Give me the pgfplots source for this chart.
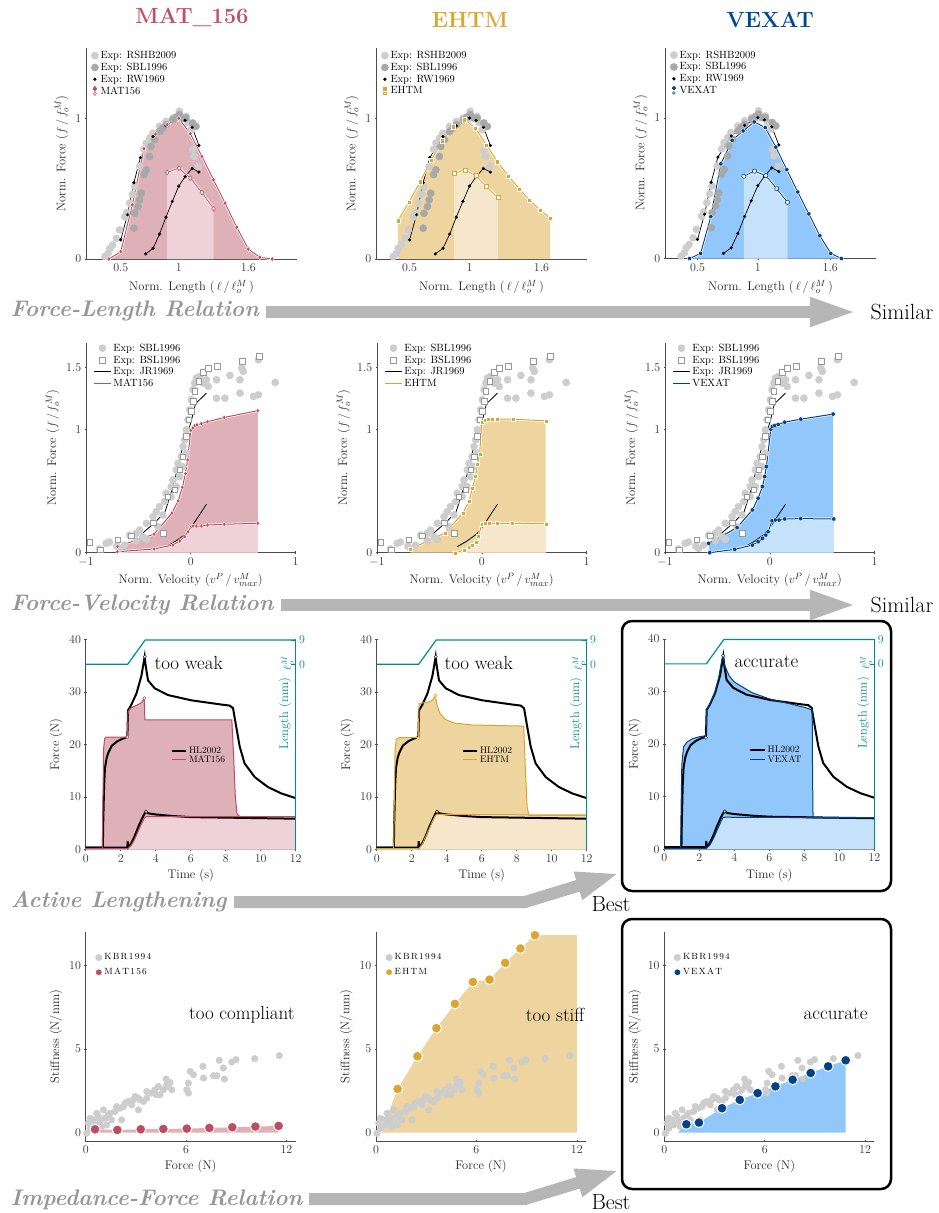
\documentclass[border=0pt]{standalone}
\usepackage{pgfplots}
\pgfplotsset{compat=1.18}
\usepackage{pgfplotstable}
\usetikzlibrary{arrows.meta}

\definecolor{matc}{RGB}{190,78,95}
\definecolor{matf}{RGB}{222,176,184}
\definecolor{matl}{RGB}{238,210,215}
\definecolor{ehc}{RGB}{220,165,45}
\definecolor{ehf}{RGB}{238,213,160}
\definecolor{ehl}{RGB}{246,231,204}
\definecolor{vxc}{RGB}{0,65,135}
\definecolor{vxf}{RGB}{145,199,250}
\definecolor{vxl}{RGB}{198,225,250}
\definecolor{gl}{RGB}{205,205,205}
\definecolor{gd}{RGB}{168,168,168}
\definecolor{tl}{RGB}{0,140,140}
\definecolor{arr}{RGB}{182,182,182}
\definecolor{lab}{RGB}{150,150,150}
\definecolor{tmat}{RGB}{192,80,100}
\definecolor{tvx}{RGB}{0,72,145}

\newcommand{\KBR}{K\kern1.3pt B\kern1.3pt R\kern1.3pt 1\kern1.3pt 9\kern1.3pt 9\kern1.3pt 4}

% ---------------- Force-length data
\pgfplotstableread{
x y
0.363 0.017
0.39 0.04
0.406 0.076
0.43 0.10
0.463 0.147
0.49 0.207
0.534 0.30
0.55 0.33
0.577 0.397
0.60 0.46
0.62 0.515
0.663 0.658
0.70 0.78
0.72 0.824
0.75 0.86
0.777 0.895
0.834 0.943
0.89 0.979
0.949 1.002
1.0 1.0
1.006 1.05
1.063 1.014
1.08 0.97
1.106 0.919
1.12 0.777
1.134 0.729
1.17 0.658
}\flRS
\pgfplotstableread{
x y
0.614 0.219
0.62 0.325
0.649 0.373
0.663 0.42
0.677 0.468
0.70 0.60
0.72 0.634
0.749 0.729
0.76 0.80
0.791 0.848
0.834 0.907
0.86 0.93
0.891 0.955
0.949 0.990
0.98 1.01
1.006 1.026
1.04 1.0
1.063 1.002
1.12 0.967
1.149 0.943
}\flSB
\pgfplotstableread{
x y
0.5 0.136
0.558 0.315
0.613 0.542
0.669 0.721
0.779 0.871
0.890 0.947
1.0 1.002
1.055 0.986
1.116 0.936
1.174 0.807
}\flRWa
\pgfplotstableread{
x y
0.715 0.036
0.779 0.076
0.834 0.177
0.890 0.298
0.945 0.410
1.0 0.518
1.055 0.585
1.116 0.644
1.174 0.618
}\flRWb
\pgfplotstableread{
x y
0.397 0
0.5 0.052
0.6 0.385
0.7 0.784
0.8 0.888
0.9 0.955
1.0 1.0
1.1 0.891
1.2 0.729
1.3 0.563
1.4 0.397
1.5 0.226
1.6 0.071
1.7 0.012
1.806 0
}\matU
\pgfplotstableread{
x y
0.9 0.615
1.0 0.646
1.1 0.575
1.2 0.473
1.3 0.356
}\matL
\pgfplotstableread{
x y
0.403 0.273
0.494 0.403
0.589 0.55
0.681 0.704
0.775 0.841
0.867 0.941
0.958 0.991
1.05 0.931
1.142 0.810
1.233 0.692
1.325 0.588
1.417 0.498
1.5 0.417
1.589 0.348
1.672 0.289
}\ehU
\pgfplotstableread{
x y
0.872 0.609
0.961 0.633
1.053 0.592
1.144 0.514
1.236 0.436
}\ehL
\pgfplotstableread{
x y
0.434 0
0.525 0.036
0.610 0.298
0.693 0.673
0.787 0.840
0.878 0.907
0.970 0.971
1.061 0.931
1.149 0.792
1.240 0.632
1.331 0.473
1.423 0.317
1.514 0.162
1.605 0.036
1.693 0
}\vxU
\pgfplotstableread{
x y
0.884 0.585
0.972 0.621
1.066 0.589
1.157 0.496
1.246 0.399
}\vxL

% ---------------- Force-velocity data
\pgfplotstableread{
x y
-0.872 0.03
-0.808 0.076
-0.776 0.086
-0.706 0.054
-0.68 0.035
-0.632 0.062
-0.584 0.141
-0.52 0.157
-0.52 0.097
-0.488 0.184
-0.456 0.13
-0.424 0.238
-0.424 0.108
-0.36 0.292
-0.33 0.332
-0.314 0.211
-0.298 0.373
-0.266 0.305
-0.25 0.414
-0.234 0.481
-0.186 0.535
-0.186 0.454
-0.17 0.589
-0.138 0.670
-0.138 0.535
-0.122 0.724
-0.106 0.616
-0.09 0.778
-0.074 0.859
-0.074 0.697
-0.058 0.914
-0.042 0.995
-0.042 0.805
-0.026 1.076
-0.01 1.157
0.006 1.238
0.022 1.319
0.038 1.373
0.054 1.414
0.086 1.427
0.118 1.373
0.15 1.40
0.166 1.346
0.246 1.40
0.246 1.251
0.326 1.251
0.374 1.435
0.47 1.292
0.47 1.40
0.486 1.495
0.502 1.468
0.598 1.265
0.646 1.562
0.646 1.278
0.806 1.378
}\fvS
\pgfplotstableread{
x y
-0.962 0.084
-0.862 0.024
-0.696 0.105
-0.568 0.138
-0.36 0.243
-0.264 0.157
-0.218 0.454
-0.154 0.508
-0.106 0.670
-0.074 0.778
-0.042 0.941
-0.019 1.076
0.006 1.143
0.022 1.224
0.038 1.305
0.077 1.386
0.118 1.459
0.166 1.495
0.256 1.508
0.493 1.549
0.653 1.589
}\fvB
\pgfplotstableread{
x y
-0.472 0.149
-0.35 0.24
-0.248 0.324
-0.2 0.45
-0.15 0.6
-0.1 0.78
-0.05 0.93
0.0 1.05
0.045 1.205
0.15 1.292
}\fvJa
\pgfplotstableread{
x y
-0.234 0.049
-0.15 0.09
-0.106 0.116
-0.05 0.15
0.0 0.2
0.07 0.29
0.15 0.392
}\fvJb
\pgfplotstableread{
x y
-0.70 0.05
-0.35 0.15
-0.18 0.32
-0.12 0.42
-0.08 0.53
-0.05 0.64
-0.03 0.75
0.0 0.99
0.02 1.01
0.04 1.03
0.06 1.035
0.10 1.045
0.16 1.06
0.32 1.095
0.64 1.15
}\matFU
\pgfplotstableread{
x y
-0.70 0.008
-0.35 0.03
-0.17 0.062
-0.106 0.095
-0.058 0.13
-0.026 0.17
0.006 0.211
0.022 0.216
0.054 0.216
0.102 0.216
0.16 0.224
0.32 0.23
0.64 0.238
}\matFL
\pgfplotstableread{
x y
-0.68 0.03
-0.35 0.16
-0.18 0.32
-0.12 0.42
-0.09 0.52
-0.06 0.62
-0.04 0.72
-0.02 0.80
0.0 1.06
0.03 1.075
0.06 1.08
0.10 1.08
0.15 1.083
0.30 1.08
0.61 1.068
}\ehFU
\pgfplotstableread{
x y
-0.25 0
-0.17 0.022
-0.122 0.043
-0.09 0.062
-0.058 0.089
-0.032 0.13
0.0 0.23
0.029 0.238
0.07 0.238
0.15 0.238
0.294 0.238
0.614 0.235
}\ehFL
\pgfplotstableread{
x y
-0.583 0.076
-0.312 0.203
-0.166 0.346
-0.111 0.441
-0.07 0.535
-0.048 0.616
-0.032 0.697
0.01 1.0
0.025 1.022
0.048 1.03
0.08 1.038
0.143 1.057
0.296 1.081
0.605 1.122
}\vxFU
\pgfplotstableread{
x y
-0.573 0
-0.334 0.027
-0.166 0.062
-0.111 0.089
-0.07 0.116
-0.038 0.143
-0.016 0.170
0.022 0.259
0.054 0.265
0.089 0.265
0.143 0.273
0.296 0.276
0.611 0.273
}\vxFL

% ---------------- Active lengthening data
\pgfplotstableread{
x y
0 0.4
0.98 0.4
1.0 5
1.05 12
1.1 15.5
1.2 17.5
1.3 18.5
1.5 19.8
1.8 20.6
2.1 21.1
2.38 21.4
2.42 26.5
2.6 27.5
2.9 29.7
3.18 33.0
3.37 36.7
3.41 35.4
3.56 32.2
3.94 30.7
4.7 29.4
6.04 28.4
7.75 27.6
8.23 27.4
8.42 26.9
8.6 23.4
8.8 19.6
9.08 16.4
9.66 13.8
10.42 11.9
11.18 10.7
12 9.8
}\hlU
\pgfplotstableread{
x y
0 0.4
2.38 0.4
2.40 1.6
2.42 0.5
2.6 1.2
2.8 2.6
3.0 4.3
3.2 5.8
3.35 6.8
3.45 7.2
3.6 6.9
4.0 6.7
5.0 6.4
6.0 6.2
8.0 6.1
10 6.0
12 5.9
}\hlL
\pgfplotstableread{
x y
0 0.2
0.95 0.2
0.98 8
1.02 19
1.08 21.1
1.2 21.4
2.38 21.4
2.42 26.2
2.6 27.0
3.0 27.6
3.2 28.0
3.35 28.8
3.38 24.7
8.35 24.7
8.45 18
8.55 10
8.65 6.8
8.8 6.3
12 6.3
}\matAU
\pgfplotstableread{
x y
0 0.2
2.4 0.2
2.6 0.8
2.8 2.0
3.0 3.5
3.2 5.0
3.35 6.0
3.45 6.3
12 6.3
}\matAL
\pgfplotstableread{
x y
0 0.2
0.97 0.2
1.0 8
1.05 19
1.12 21.0
1.3 21.3
2.38 21.3
2.42 27.8
3.0 28.1
3.2 28.5
3.35 29.3
3.45 27.5
3.6 26.0
3.9 24.8
4.4 24.1
5.5 23.7
8.4 23.5
8.5 15
8.6 8
8.7 6.5
12 6.5
}\ehAU
\pgfplotstableread{
x y
0 0.2
2.4 0.2
2.6 1
2.8 2.5
3.0 4.0
3.2 5.5
3.35 6.5
3.45 6.7
12 6.6
}\ehAL
\pgfplotstableread{
x y
0 0.2
0.93 0.2
0.96 8
1.0 16
1.1 19.5
1.3 20.4
1.6 21.0
2.0 21.4
2.38 21.6
2.42 26.5
2.6 27.6
2.9 30
3.1 32.5
3.3 36.2
3.36 36.8
3.45 35.0
3.7 33.0
4.0 31.8
5.0 29.8
6.0 28.6
7.0 27.8
8.0 27.0
8.45 26.5
8.47 15
8.5 6.0
12 6.0
}\vxAU
\pgfplotstableread{
x y
0 0.2
2.4 0.2
2.6 0.8
2.8 2.0
3.0 3.5
3.2 5.0
3.35 6.0
3.45 6.1
12 6.0
}\vxAL

% ---------------- Impedance-force data
\pgfplotstableread{
x y
0.06 -0.04
0.16 0.56
0.26 0.26
0.26 0.86
0.46 0.76
0.56 0.46
0.66 1.16
0.76 0.96
0.86 0.66
0.96 0.36
1.06 1.36
1.16 0.86
1.26 0.46
1.35 1.06
1.45 1.16
1.55 0.76
1.75 1.26
1.85 1.56
2.05 1.46
2.15 0.76
2.25 1.56
2.35 1.76
2.45 1.8
2.55 1.86
2.75 1.66
2.85 1.96
2.95 2.16
3.15 1.36
3.15 2.06
3.25 1.96
3.45 1.86
3.65 2.06
3.65 2.46
3.94 2.36
4.14 2.56
4.24 2.26
4.34 2.76
4.44 2.26
4.64 2.56
4.8 3.2
4.84 2.86
4.94 2.76
5.04 3.0
5.14 2.56
6.04 2.56
6.14 2.96
6.14 2.36
6.24 3.66
6.44 3.46
7.0 3.96
7.04 3.26
7.64 3.4
7.84 3.4
7.98 4.32
8.23 3.86
8.29 3.2
8.73 4.22
8.98 4.36
10.1 4.42
11.57 4.6
}\kbr
\pgfplotstableread{
x y
0.56 0.2
1.89 0.16
3.29 0.2
4.64 0.22
6.04 0.24
7.39 0.28
8.76 0.32
10.14 0.36
11.53 0.4
}\matI
\pgfplotstableread{
x y
1.29 2.61
2.48 4.56
3.61 6.24
4.72 7.69
5.79 9.0
6.79 9.14
7.72 10.14
8.63 11.0
9.5 11.79
}\ehI
\pgfplotstableread{
x y
1.32 0.5
2.07 0.6
3.45 1.46
4.51 1.96
5.58 2.36
6.64 2.76
7.67 3.16
8.75 3.56
9.79 3.96
10.84 4.32
}\vxI

\pgfplotsset{
  base/.style={scale only axis, anchor=south west, axis lines=left,
    axis line style={-, line width=0.7pt, black!70},
    tick style={black!70, line width=0.5pt}, major tick length=2.5pt,
    tick label style={font=\fontsize{12}{14}\selectfont, text=black!80},
    label style={font=\fontsize{12.5}{15}\selectfont, text=black!85},
    clip=false,
    legend style={draw=none, fill=none, font=\fontsize{10.5}{12}\selectfont, row sep=-1pt},
    legend cell align=left},
  fl/.style={base, width=211pt, height=211pt, ymin=0, ymax=1.5,
    xtick={0.5,1,1.6}, ytick={0,1},
    xlabel={Norm. Length (\,$\ell\mkern3mu/\mkern3mu\ell^{M}_{o}$\,)}, ylabel={Norm. Force ($f\,/\,f^M_o$)},
    xlabel style={yshift=-2pt},
    legend style={at={(0.01,1.005)}, anchor=north west}},
  fv/.style={base, width=209.5pt, height=210pt, xmin=-1, xmax=1, ymin=0, ymax=1.7,
    xtick={-1,0,1}, ytick={0,1,1.5},
    xlabel={Norm. Velocity ($v^P\,/\,v^M_{max}$)}, ylabel={Norm. Force ($f\,/\,f^M_o$)},
    legend style={at={(0.02,1.015)}, anchor=north west}},
  al/.style={base, width=210pt, height=210.4pt, xmin=0, xmax=12, ymin=0, ymax=40,
    xtick={0,2,...,12}, ytick={0,10,...,40},
    xlabel={Time (s)}, ylabel={Force (N)},
    legend style={at={(0.39,0.51)}, anchor=north west, font=\fontsize{9.5}{10}\selectfont, row sep=-3pt},
    legend image code/.code={\draw[#1] (0cm,0cm) -- (0.5cm,0cm);}},
  alr/.style={scale only axis, anchor=south west, width=210pt, height=210.4pt, xmin=0, xmax=12,
    ymin=-68.7, ymax=9.25, axis x line=none, axis y line*=right,
    axis line style={-, tl, line width=0.8pt}, ytick={0,9}, tick style={tl},
    yticklabel style={font=\fontsize{12}{14}\selectfont, text=tl}, clip=false},
  imp/.style={base, width=210pt, height=209.3pt, xmin=0, xmax=12.55, ymin=-0.5, ymax=12,
    xtick={0,6,12}, ytick={0,5,10},
    xlabel={Force (N)}, ylabel={Stiffness (N/mm)},
    legend style={at={(0.03,0.915)}, anchor=north west, font=\fontsize{9}{10}\selectfont, row sep=3pt}},
  halo/.style={white, line width=2.4pt, forget plot},
  gdot/.style={only marks, mark=*, mark size=3.6pt},
  rwline/.style={black, line width=0.7pt, mark=*, mark size=1.2pt},
  lgdot/.style={legend image code/.code={\fill[black] (0.3cm,0) circle (1.3pt);}},
  pk/.style={only marks, mark=*, mark size=1.6pt, mark options={fill=white, draw=#1, line width=0.5pt}, forget plot},
  bigdot/.style={only marks, mark=*, mark size=5pt, mark options={fill=#1, draw=white, line width=1pt},
    legend image post style={mark size=3.6pt}},
}

\begin{document}
\begin{tikzpicture}[x=1pt,y=1pt]
\useasboundingbox (0,0) rectangle (939,-1213);

% ================= Titles
\node[anchor=base, font=\fontsize{22}{24}\selectfont\bfseries, text=tmat] at (192,-23) {MAT\_156};
\node[anchor=base, font=\fontsize{22}{24}\selectfont\bfseries, text=ehc] at (470,-27) {EHTM};
\node[anchor=base, font=\fontsize{22}{24}\selectfont\bfseries, text=tvx] at (770,-27) {VEXAT};

% ================= Row 1: Force-length
\begin{axis}[fl, at={(86pt,-259pt)}, xmin=0.2, xmax=2.02]
\addplot[fill=matf, draw=none, forget plot] table {\matU} \closedcycle;
\addplot[fill=matl, draw=none, forget plot] table {\matL} \closedcycle;
\addplot[gdot, gl] table {\flRS}; \addlegendentry{Exp: RSHB2009}
\addplot[gdot, gd] table {\flSB}; \addlegendentry{Exp: SBL1996}
\addplot[rwline, lgdot] table {\flRWa}; \addlegendentry{Exp: RW1969}
\addplot[rwline, forget plot] table {\flRWb};
\addplot[halo] table {\matU};
\addplot[halo] table {\matL};
\addplot[matc, line width=0.9pt, mark=diamond*, mark size=2.6pt, mark options={fill=matc, draw=white, line width=0.4pt},
  legend image code/.code={
   \filldraw[matc] (0.3cm,4.6pt) -- ({0.3cm+1.7pt},2.4pt) -- (0.3cm,0.2pt) -- ({0.3cm-1.7pt},2.4pt) -- cycle;
   \draw[matc, fill=white, line width=0.5pt] (0.3cm,-0.6pt) -- ({0.3cm+1.5pt},-2.5pt) -- (0.3cm,-4.4pt) -- ({0.3cm-1.5pt},-2.5pt) -- cycle;}]
  table {\matU}; \addlegendentry{MAT156}
\addplot[matc, line width=0.8pt, mark=diamond*, mark size=2.4pt, mark options={fill=white, draw=matc, line width=0.6pt}, forget plot] table {\matL};
\end{axis}

\begin{axis}[fl, at={(376pt,-259pt)}, xmin=0.22, xmax=1.98]
\addplot[fill=ehf, draw=none, forget plot] table {\ehU} \closedcycle;
\addplot[fill=ehl, draw=none, forget plot] table {\ehL} \closedcycle;
\addplot[gdot, gl] table {\flRS}; \addlegendentry{Exp: RSHB2009}
\addplot[gdot, gd] table {\flSB}; \addlegendentry{Exp: SBL1996}
\addplot[rwline, lgdot] table {\flRWa}; \addlegendentry{Exp: RW1969}
\addplot[rwline, forget plot] table {\flRWb};
\addplot[halo] table {\ehU};
\addplot[halo] table {\ehL};
\addplot[ehc, line width=0.9pt, mark=square*, mark size=2.1pt, mark options={fill=ehc, draw=white, line width=0.4pt},
  legend image code/.code={
   \fill[ehc] ({0.3cm-1.5pt},1pt) rectangle ({0.3cm+1.5pt},4pt);
   \draw[ehc, fill=white, line width=0.5pt] ({0.3cm-1.3pt},-1pt) rectangle ({0.3cm+1.3pt},-3.6pt);}]
  table {\ehU}; \addlegendentry{EHTM}
\addplot[ehc, line width=0.8pt, mark=square*, mark size=2pt, mark options={fill=white, draw=ehc, line width=0.6pt}, forget plot] table {\ehL};
\end{axis}

\begin{axis}[fl, at={(665pt,-258.5pt)}, xmin=0.23, xmax=1.98]
\addplot[fill=vxf, draw=none, forget plot] table {\vxU} \closedcycle;
\addplot[fill=vxl, draw=none, forget plot] table {\vxL} \closedcycle;
\addplot[gdot, gl] table {\flRS}; \addlegendentry{Exp: RSHB2009}
\addplot[gdot, gd] table {\flSB}; \addlegendentry{Exp: SBL1996}
\addplot[rwline, lgdot] table {\flRWa}; \addlegendentry{Exp: RW1969}
\addplot[rwline, forget plot] table {\flRWb};
\addplot[halo] table {\vxU};
\addplot[halo] table {\vxL};
\addplot[vxc, line width=0.9pt, mark=*, mark size=2.2pt, mark options={fill=vxc, draw=white, line width=0.4pt},
  legend image code/.code={
   \fill[vxc] (0.3cm,2.5pt) circle (1.6pt);
   \draw[vxc, fill=white, line width=0.5pt] (0.3cm,-2.3pt) circle (1.4pt);}]
  table {\vxU}; \addlegendentry{VEXAT}
\addplot[vxc, line width=0.8pt, mark=*, mark size=2.1pt, mark options={fill=white, draw=vxc, line width=0.6pt}, forget plot] table {\vxL};
\end{axis}

% ================= Row 2: Force-velocity
\begin{axis}[fv, at={(86pt,-552.7pt)}]
\addplot[fill=matf, draw=none, forget plot] table {\matFU} \closedcycle;
\addplot[fill=matl, draw=none, forget plot] table {\matFL} \closedcycle;
\addplot[gdot, gl] table {\fvS}; \addlegendentry{Exp: SBL1996}
\addplot[only marks, mark=square*, mark size=2.8pt, mark options={fill=white, draw=gray!80, line width=0.6pt}] table {\fvB}; \addlegendentry{Exp: BSL1996}
\addplot[black, line width=0.8pt] table {\fvJa}; \addlegendentry{Exp: JR1969}
\addplot[black, line width=0.8pt, forget plot] table {\fvJb};
\addplot[halo] table {\matFU};
\addplot[halo] table {\matFL};
\addplot[matc, line width=1pt, mark=diamond*, mark size=2.4pt, mark options={fill=matc, draw=white, line width=0.3pt}, legend image post style={mark=none}] table {\matFU}; \addlegendentry{MAT156}
\addplot[matc, line width=1pt, mark=diamond*, mark size=2.4pt, mark options={fill=matc, draw=white, line width=0.3pt}, forget plot] table {\matFL};
\end{axis}

\begin{axis}[fv, at={(377pt,-552.7pt)}]
\addplot[fill=ehf, draw=none, forget plot] table {\ehFU} \closedcycle;
\addplot[fill=ehl, draw=none, forget plot] table {\ehFL} \closedcycle;
\addplot[gdot, gl] table {\fvS}; \addlegendentry{Exp: SBL1996}
\addplot[only marks, mark=square*, mark size=2.8pt, mark options={fill=white, draw=gray!80, line width=0.6pt}] table {\fvB}; \addlegendentry{Exp: BSL1996}
\addplot[black, line width=0.8pt] table {\fvJa}; \addlegendentry{Exp: JR1969}
\addplot[black, line width=0.8pt, forget plot] table {\fvJb};
\addplot[halo] table {\ehFU};
\addplot[halo] table {\ehFL};
\addplot[ehc, line width=1pt, mark=square*, mark size=2pt, mark options={fill=ehc, draw=white, line width=0.3pt}, legend image post style={mark=none}] table {\ehFU}; \addlegendentry{EHTM}
\addplot[ehc, line width=1pt, mark=square*, mark size=2pt, mark options={fill=ehc, draw=white, line width=0.3pt}, forget plot] table {\ehFL};
\end{axis}

\begin{axis}[fv, at={(665pt,-552.7pt)}]
\addplot[fill=vxf, draw=none, forget plot] table {\vxFU} \closedcycle;
\addplot[fill=vxl, draw=none, forget plot] table {\vxFL} \closedcycle;
\addplot[gdot, gl] table {\fvS}; \addlegendentry{Exp: SBL1996}
\addplot[only marks, mark=square*, mark size=2.8pt, mark options={fill=white, draw=gray!80, line width=0.6pt}] table {\fvB}; \addlegendentry{Exp: BSL1996}
\addplot[black, line width=0.8pt] table {\fvJa}; \addlegendentry{Exp: JR1969}
\addplot[black, line width=0.8pt, forget plot] table {\fvJb};
\addplot[halo] table {\vxFU};
\addplot[halo] table {\vxFL};
\addplot[vxc, line width=1pt, mark=*, mark size=2.2pt, mark options={fill=vxc, draw=white, line width=0.3pt}, legend image post style={mark=none}] table {\vxFU}; \addlegendentry{VEXAT}
\addplot[vxc, line width=1pt, mark=*, mark size=2.2pt, mark options={fill=vxc, draw=white, line width=0.3pt}, forget plot] table {\vxFL};
\end{axis}

% ================= Row 3: Active lengthening
\begin{axis}[al, at={(85.7pt,-849.7pt)}]
\addplot[fill=matf, draw=none, forget plot] table {\matAU} \closedcycle;
\addplot[fill=matl, draw=none, forget plot] table {\matAL} \closedcycle;
\addplot[black, line width=2pt] table {\hlU}; \addlegendentry{HL2002}
\addplot[black, line width=2pt, forget plot] table {\hlL};
\addplot[matc, line width=1pt] table {\matAU}; \addlegendentry{MAT156}
\addplot[matc, line width=1pt, forget plot] table {\matAL};
\addplot[pk=matc] coordinates {(2.38,21.4) (3.35,28.8)};
\addplot[pk=vxc] coordinates {(3.38,36.7)};
\addplot[pk=black] coordinates {(3.45,7.2)};
\end{axis}
\begin{axis}[alr, at={(85.7pt,-849.7pt)}]
\addplot[tl, line width=1.2pt] coordinates {(0,0) (2.4,0) (3.4,9) (12,9)};
\node[rotate=90, text=tl, font=\fontsize{12.5}{15}\selectfont] at (rel axis cs:0.949,0.648) {Length (mm)};
\node[rotate=90, text=tl, font=\fontsize{11}{13}\selectfont] at (rel axis cs:0.962,0.887) {$\ell^M_o$};
\end{axis}

\begin{axis}[al, at={(376.7pt,-849.7pt)}]
\addplot[fill=ehf, draw=none, forget plot] table {\ehAU} \closedcycle;
\addplot[fill=ehl, draw=none, forget plot] table {\ehAL} \closedcycle;
\addplot[black, line width=2pt] table {\hlU}; \addlegendentry{HL2002}
\addplot[black, line width=2pt, forget plot] table {\hlL};
\addplot[ehc, line width=1pt] table {\ehAU}; \addlegendentry{EHTM}
\addplot[ehc, line width=1pt, forget plot] table {\ehAL};
\addplot[pk=ehc] coordinates {(2.38,21.2) (3.35,29.3)};
\addplot[pk=vxc] coordinates {(3.38,36.7)};
\addplot[pk=black] coordinates {(3.45,7.2)};
\end{axis}
\begin{axis}[alr, at={(376.7pt,-849.7pt)}]
\addplot[tl, line width=1.2pt] coordinates {(0,0) (2.4,0) (3.4,9) (12,9)};
\node[rotate=90, text=tl, font=\fontsize{12.5}{15}\selectfont] at (rel axis cs:0.949,0.648) {Length (mm)};
\node[rotate=90, text=tl, font=\fontsize{11}{13}\selectfont] at (rel axis cs:0.962,0.887) {$\ell^M_o$};
\end{axis}

\begin{axis}[al, at={(664.3pt,-849.3pt)}]
\addplot[fill=vxf, draw=none, forget plot] table {\vxAU} \closedcycle;
\addplot[fill=vxl, draw=none, forget plot] table {\vxAL} \closedcycle;
\addplot[black, line width=2pt] table {\hlU}; \addlegendentry{HL2002}
\addplot[black, line width=2pt, forget plot] table {\hlL};
\addplot[vxc, line width=1pt] table {\vxAU}; \addlegendentry{VEXAT}
\addplot[vxc, line width=1pt, forget plot] table {\vxAL};
\addplot[pk=vxc] coordinates {(2.38,21.2) (3.36,36.8)};
\addplot[pk=black] coordinates {(3.45,7.2)};
\end{axis}
\begin{axis}[alr, at={(664.3pt,-849.3pt)}]
\addplot[tl, line width=1.2pt] coordinates {(0,0) (2.4,0) (3.4,9) (12,9)};
\node[rotate=90, text=tl, font=\fontsize{12.5}{15}\selectfont] at (rel axis cs:0.949,0.648) {Length (mm)};
\node[rotate=90, text=tl, font=\fontsize{11}{13}\selectfont] at (rel axis cs:0.962,0.887) {$\ell^M_o$};
\end{axis}

% ================= Row 4: Impedance-force
\begin{axis}[imp, at={(85.7pt,-1141pt)}]
\addplot[fill=matf, draw=none, forget plot] coordinates {(0.56,0) (0.56,0.2) (1.89,0.16) (3.29,0.2) (4.64,0.22) (6.04,0.24) (7.39,0.28) (8.76,0.32) (10.14,0.36) (11.53,0.4) (11.53,0)} --cycle;
\addplot[gdot, gl, mark size=3.3pt] table {\kbr}; \addlegendentry{\KBR}
\addplot[bigdot=matc] table {\matI}; \addlegendentry{M\kern1.3pt A\kern1.3pt T\kern1.3pt 1\kern1.3pt 5\kern1.3pt 6}
\end{axis}

\begin{axis}[imp, at={(376pt,-1141pt)}]
\addplot[fill=ehf, draw=none, forget plot] coordinates {(0.3,0) (1.29,2.61) (2.48,4.56) (3.61,6.24) (4.72,7.69) (5.79,9.0) (6.79,9.14) (7.72,10.14) (8.63,11.0) (9.5,11.79) (12,11.79) (12,0)} --cycle;
\addplot[gdot, gl, mark size=3.3pt] table {\kbr}; \addlegendentry{\KBR}
\addplot[bigdot=ehc] table {\ehI}; \addlegendentry{E\kern1.3pt H\kern1.3pt T\kern1.3pt M}
\end{axis}

\begin{axis}[imp, at={(664.3pt,-1141pt)}]
\addplot[fill=vxf, draw=none, forget plot] coordinates {(0.8,0) (1.32,0.5) (2.07,0.6) (3.45,1.46) (4.51,1.96) (5.58,2.36) (6.64,2.76) (7.67,3.16) (8.75,3.56) (9.79,3.96) (10.84,4.32) (10.84,0)} --cycle;
\addplot[gdot, gl, mark size=3.3pt] table {\kbr}; \addlegendentry{\KBR}
\addplot[bigdot=vxc] table {\vxI}; \addlegendentry{V\kern1.3pt E\kern1.3pt X\kern1.3pt A\kern1.3pt T}
\end{axis}

% ================= Annotations
\node[anchor=west, font=\fontsize{19}{21}\selectfont] at (151,-663) {too weak};
\node[anchor=west, font=\fontsize{19}{21}\selectfont] at (441,-663) {too weak};
\node[anchor=west, font=\fontsize{19}{21}\selectfont] at (731,-662) {accurate};
\node[anchor=east, font=\fontsize{19}{21}\selectfont] at (298,-1015) {too compliant};
\node[anchor=east, font=\fontsize{19}{21}\selectfont] at (588,-1015) {too stiff};
\node[anchor=east, font=\fontsize{19}{21}\selectfont] at (871,-1014) {accurate};

% boxes
\draw[line width=2.5pt, rounded corners=10pt] (622,-621) rectangle (891,-891);
\draw[line width=2.5pt, rounded corners=10pt] (622,-919) rectangle (891,-1189);

% row labels and arrows
\node[anchor=west, font=\fontsize{22.5}{25}\selectfont\bfseries\itshape, text=lab] at (7,-311) {Force-Length Relation};
\draw[arr, line width=12pt, -{Triangle[length=48pt,width=26pt]}] (266,-312) -- (858,-312);
\node[font=\fontsize{22}{24}\selectfont] at (902,-312) {Similar};

\node[anchor=west, font=\fontsize{22.5}{25}\selectfont\bfseries\itshape, text=lab] at (7,-605) {Force-Velocity Relation};
\draw[arr, line width=12pt, -{Triangle[length=48pt,width=26pt]}] (281,-605) -- (858,-605);
\node[font=\fontsize{22}{24}\selectfont] at (902,-605) {Similar};

\node[anchor=west, font=\fontsize{22.5}{25}\selectfont\bfseries\itshape, text=lab] at (7,-902) {Active Lengthening};
\draw[arr, line width=12pt, line join=miter, -{Triangle[length=44pt,width=26pt]}] (234,-902) -- (525,-902) -- (620,-873);
\node[font=\fontsize{22}{24}\selectfont] at (611,-904) {Best};

\node[anchor=west, font=\fontsize{22.5}{25}\selectfont\bfseries\itshape, text=lab] at (7,-1200) {Impedance-Force Relation};
\draw[arr, line width=12pt, line join=miter, -{Triangle[length=44pt,width=26pt]}] (309,-1199) -- (525,-1199) -- (620,-1170);
\node[font=\fontsize{22}{24}\selectfont] at (611,-1202) {Best};
\end{tikzpicture}
\end{document}
